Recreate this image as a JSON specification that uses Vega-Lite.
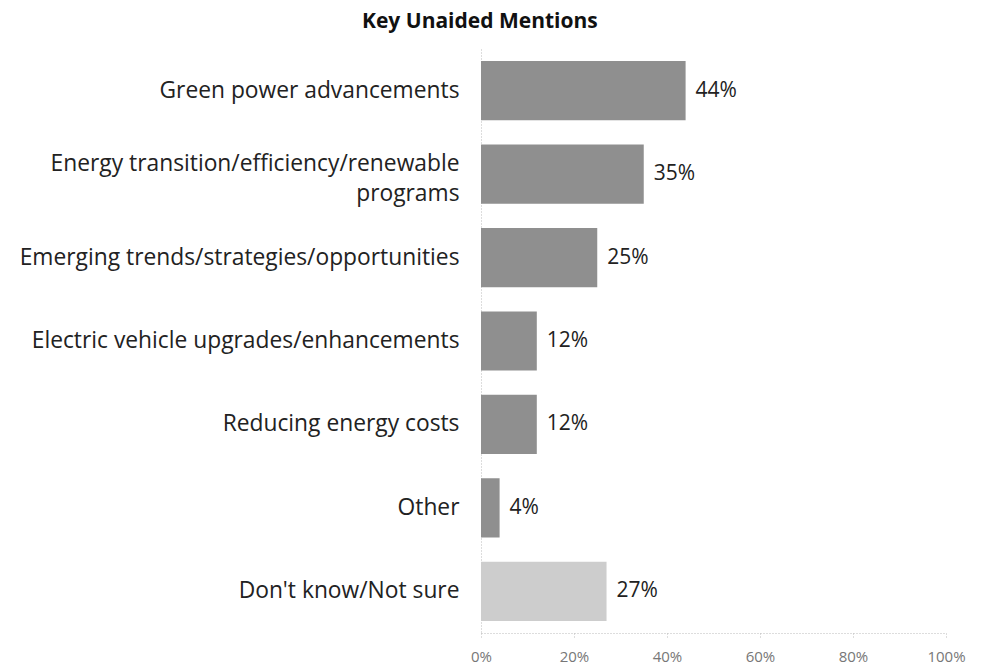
{
  "$schema": "https://vega.github.io/schema/vega-lite/v6.json",
  "autosize": {"type": "none"},
  "padding": {"left": 481, "top": 49, "right": 38, "bottom": 37},
  "width": 465,
  "height": 584,
  "background": "white",
  "title": {
    "text": "Key Unaided Mentions",
    "font": "Open Sans",
    "fontSize": 21,
    "fontWeight": "bold",
    "color": "#111111",
    "anchor": "start",
    "frame": "group",
    "dx": -119,
    "offset": 17
  },
  "data": {
    "values": [
      {"item": "Green power advancements", "pct": 0.44, "kind": "mention"},
      {"item": "Energy transition/efficiency/renewable programs", "pct": 0.35, "kind": "mention"},
      {"item": "Emerging trends/strategies/opportunities", "pct": 0.25, "kind": "mention"},
      {"item": "Electric vehicle upgrades/enhancements", "pct": 0.12, "kind": "mention"},
      {"item": "Reducing energy costs", "pct": 0.12, "kind": "mention"},
      {"item": "Other", "pct": 0.04, "kind": "mention"},
      {"item": "Don't know/Not sure", "pct": 0.27, "kind": "dk"}
    ]
  },
  "encoding": {
    "y": {
      "field": "item",
      "type": "nominal",
      "sort": null,
      "scale": {"paddingInner": 0.29, "paddingOuter": 0.145},
      "axis": {
        "title": null,
        "domain": true,
        "domainColor": "#bbbbbb",
        "domainDash": [1, 2],
        "ticks": false,
        "labelFont": "Open Sans",
        "labelFontSize": 22.8,
        "labelColor": "#222222",
        "labelPadding": 22,
        "labelLimit": 600,
        "labelLineHeight": 30,
        "labelOffset": {"expr": "datum.value == 'Energy transition/efficiency/renewable programs' ? -10 : 0"},
        "labelExpr": "datum.value == 'Energy transition/efficiency/renewable programs' ? ['Energy transition/efficiency/renewable', 'programs'] : datum.value"
      }
    },
    "x": {
      "field": "pct",
      "type": "quantitative",
      "scale": {"domain": [0, 1]},
      "axis": {
        "title": null,
        "values": [0, 0.2, 0.4, 0.6, 0.8, 1],
        "format": ".0%",
        "grid": false,
        "labelFlush": false,
        "domainColor": "#bbbbbb",
        "domainDash": [1, 2],
        "tickColor": "#bbbbbb",
        "tickSize": 4,
        "tickDash": [1, 2],
        "labelFont": "Open Sans",
        "labelFontSize": 15,
        "labelColor": "#777777",
        "labelPadding": 12
      }
    }
  },
  "layer": [
    {
      "mark": {"type": "bar"},
      "encoding": {
        "color": {
          "field": "kind",
          "type": "nominal",
          "scale": {"domain": ["mention", "dk"], "range": ["#8f8f8f", "#cdcdcd"]},
          "legend": null
        }
      }
    },
    {
      "mark": {"type": "text", "align": "left", "dx": 10, "font": "Open Sans", "fontSize": 21, "color": "#222222"},
      "encoding": {
        "text": {"field": "pct", "type": "quantitative", "format": ".0%"},
        "x": {"field": "pct", "type": "quantitative"}
      }
    }
  ],
  "config": {"view": {"stroke": null}}
}
